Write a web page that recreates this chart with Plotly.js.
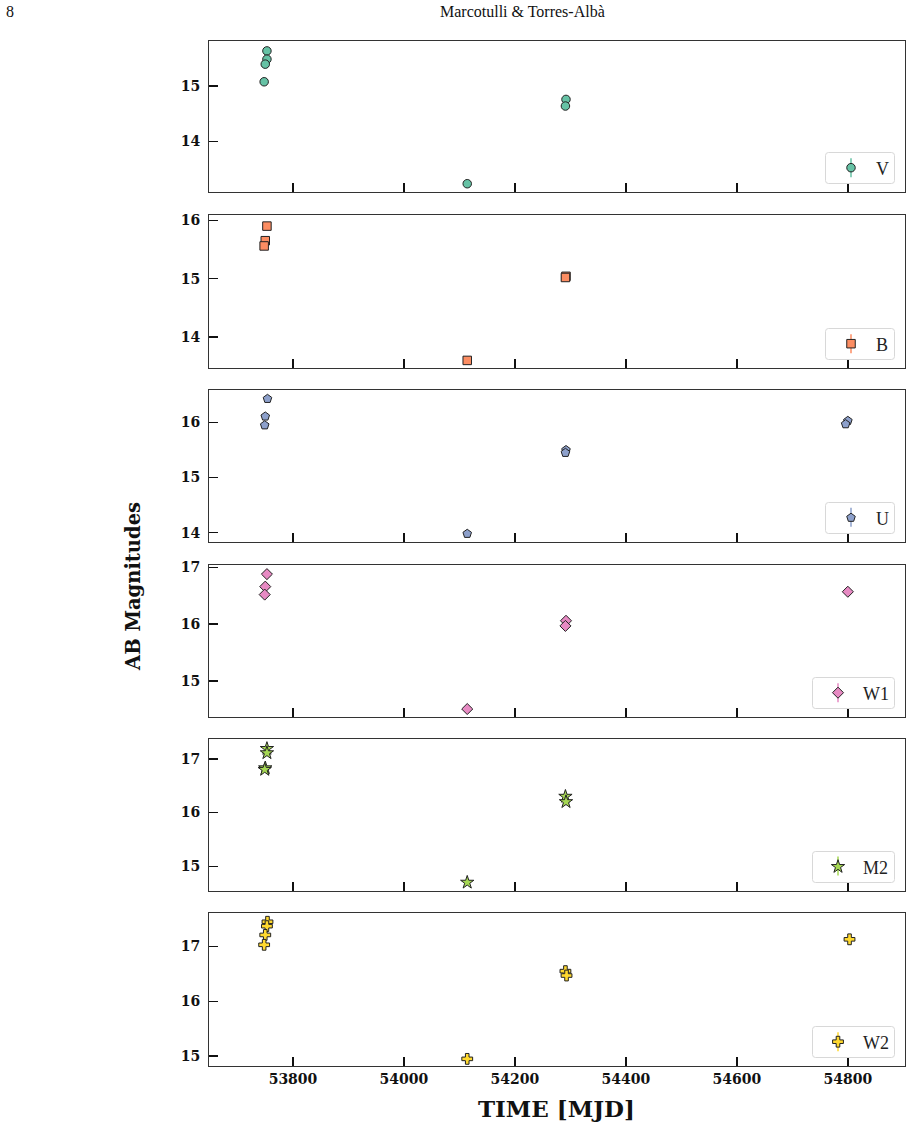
<!DOCTYPE html>
<html><head><meta charset="utf-8">
<script src="https://cdn.plot.ly/plotly-3.0.1.min.js"></script>
<style>body{margin:0;background:#fff}#chart{width:911px;height:1129px}</style>
</head><body><div id="chart"></div>
<script>
// ---- data ----
const bands = ['V', 'B', 'U', 'W1', 'M2', 'W2'];
const mjd_V  = [53753, 53753, 53750, 53748, 54114, 54292, 54291];
const mag_V  = [15.64, 15.49, 15.40, 15.08, 13.23, 14.76, 14.64];
const mjd_B  = [53753, 53750, 53748, 54114, 54292, 54291];
const mag_B  = [15.90, 15.65, 15.56, 13.60, 15.04, 15.02];
const mjd_U  = [53754, 53750, 53749, 54114, 54292, 54291, 54800, 54796];
const mag_U  = [16.43, 16.11, 15.95, 13.98, 15.50, 15.45, 16.03, 15.97];
const mjd_W1 = [53753, 53750, 53749, 54114, 54292, 54291, 54800];
const mag_W1 = [16.88, 16.66, 16.52, 14.51, 16.06, 15.97, 16.57];
const mjd_M2 = [53753, 53753, 53750, 53749, 54114, 54291, 54292];
const mag_M2 = [17.19, 17.11, 16.83, 16.80, 14.70, 16.30, 16.20];
const mjd_W2 = [53754, 53753, 53750, 53748, 54114, 54291, 54293, 54803];
const mag_W2 = [17.45, 17.37, 17.21, 17.03, 14.95, 16.55, 16.47, 17.13];
const xTicks = [53800, 54000, 54200, 54400, 54600, 54800];

const mjds = [mjd_V, mjd_B, mjd_U, mjd_W1, mjd_M2, mjd_W2];
const mags = [mag_V, mag_B, mag_U, mag_W1, mag_M2, mag_W2];

// ---- style ----
const colors  = ['#66c2a5', '#fc8d62', '#8da0cb', '#e78ac3', '#a6d854', '#ffd92f'];
const symbols = ['circle', 'square', 'pentagon', 'diamond', 'star', 'cross'];
const sizes   = [8.5, 8.5, 9, 8.5, 10, 9];
const yRanges = [[13.08, 15.82], [13.47, 16.09], [13.83, 16.59], [14.37, 17.04], [14.54, 17.37], [14.82, 17.61]];
const W = 911, H = 1129;
const tops    = [41, 215, 390, 565, 739, 913];
const bottoms = [192, 368, 542, 717, 891, 1066];
const xLeft = 209, xRight = 905;

const tickFont = {family: 'DejaVu Serif', size: 14, weight: 'bold', color: '#111'};
const traces = [];
const layout = {
  width: W, height: H,
  margin: {l: 0, r: 0, t: 0, b: 0},
  paper_bgcolor: '#fff', plot_bgcolor: '#fff',
  showlegend: true,
  annotations: [
    {text: '8', x: 4 / W, y: 1 - 12 / H, xref: 'paper', yref: 'paper', xanchor: 'left', yanchor: 'middle', showarrow: false,
     font: {family: 'Liberation Serif', size: 16, color: '#111'}},
    {text: 'Marcotulli & Torres-Albà', x: 522 / W, y: 1 - 12 / H, xref: 'paper', yref: 'paper', xanchor: 'center', yanchor: 'middle', showarrow: false,
     font: {family: 'Liberation Serif', size: 16, color: '#111'}},
    {text: 'AB Magnitudes', x: 133 / W, y: 1 - 587 / H, xref: 'paper', yref: 'paper', xanchor: 'center', yanchor: 'middle', textangle: -90, showarrow: false,
     font: {family: 'DejaVu Serif', size: 19.5, weight: 'bold', color: '#111'}},
    {text: 'TIME [MJD]', x: 556 / W, y: 1 - 1108 / H, xref: 'paper', yref: 'paper', xanchor: 'center', yanchor: 'middle', showarrow: false,
     font: {family: 'DejaVu Serif', size: 23, weight: 'bold', color: '#111'}}
  ]
};

bands.forEach((b, i) => {
  const n = i === 0 ? '' : String(i + 1);
  const lg = 'legend' + n;
  traces.push({
    type: 'scatter', mode: 'markers', name: b,
    x: mjds[i], y: mags[i],
    xaxis: 'x' + n, yaxis: 'y' + n, legend: lg,
    marker: {symbol: symbols[i], size: sizes[i], color: colors[i], line: {color: '#222', width: 1}},
    hoverinfo: 'x+y'
  });
  layout['xaxis' + n] = {
    domain: [xLeft / W, xRight / W], anchor: 'y' + n,
    range: [53648.6, 54903], tickvals: xTicks, ticktext: xTicks.map(String),
    ticks: 'inside', ticklen: 9, tickwidth: 1.5, tickcolor: '#111',
    showticklabels: i === 5, tickfont: tickFont,
    showline: true, linecolor: '#333', linewidth: 1, mirror: true,
    showgrid: false, zeroline: false
  };
  if (i > 0) layout['xaxis' + n].matches = 'x';
  layout['yaxis' + n] = {
    domain: [1 - bottoms[i] / H, 1 - tops[i] / H], anchor: 'x' + n,
    range: yRanges[i], dtick: 1, tick0: 0,
    ticks: 'inside', ticklen: 9, tickwidth: 1.5, tickcolor: '#111',
    tickfont: tickFont, ticklabelstandoff: 5,
    showline: true, linecolor: '#333', linewidth: 1, mirror: true,
    showgrid: false, zeroline: false
  };
  layout[lg] = {
    x: 895 / W, xanchor: 'right', y: 1 - (bottoms[i] - 4.5) / H, yanchor: 'bottom',
    bgcolor: 'rgba(255,255,255,0)', bordercolor: 'rgba(0,0,0,0)', borderwidth: 1,
    font: {family: 'Liberation Serif', size: 18, color: '#222'},
    itemwidth: 40
  };
});

function roundRect(x0, y0, x1, y1, r) {
  // pixel coords (top-left origin) -> paper-coordinate SVG path
  const px = v => (v / W).toFixed(5), py = v => (1 - v / H).toFixed(5);
  return 'M' + px(x0 + r) + ',' + py(y0) +
    ' L' + px(x1 - r) + ',' + py(y0) + ' Q' + px(x1) + ',' + py(y0) + ' ' + px(x1) + ',' + py(y0 + r) +
    ' L' + px(x1) + ',' + py(y1 - r) + ' Q' + px(x1) + ',' + py(y1) + ' ' + px(x1 - r) + ',' + py(y1) +
    ' L' + px(x0 + r) + ',' + py(y1) + ' Q' + px(x0) + ',' + py(y1) + ' ' + px(x0) + ',' + py(y1 - r) +
    ' L' + px(x0) + ',' + py(y0 + r) + ' Q' + px(x0) + ',' + py(y0) + ' ' + px(x0 + r) + ',' + py(y0) + ' Z';
}

Plotly.newPlot('chart', traces, layout, {displayModeBar: false, staticPlot: true}).then(gd => {
  const root = gd.getBoundingClientRect();
  const shapes = [];
  bands.forEach((b, i) => {
    const lg = 'legend' + (i === 0 ? '' : String(i + 1));
    const grp = gd.querySelector('g.' + lg + ' rect.bg');
    const pt = gd.querySelector('g.' + lg + ' .legendpoints path.scatterpts');
    if (grp) {
      const g = grp.getBoundingClientRect();
      const x0 = g.left - root.left, x1 = g.right - root.left;
      const cy = (g.top + g.bottom) / 2 - root.top;
      shapes.push({type: 'path', xref: 'paper', yref: 'paper', layer: 'above',
        path: roundRect(x0, cy - 15.5, x1, cy + 15.5, 3),
        line: {color: '#d8d8d8', width: 1}, fillcolor: 'rgba(255,255,255,0)'});
    }
    if (pt) {
      const r = pt.getBoundingClientRect();
      const cx = r.left + r.width / 2 - root.left, cy = r.top + r.height / 2 - root.top;
      shapes.push({type: 'line', xref: 'paper', yref: 'paper', layer: 'above',
        x0: cx / W, x1: cx / W, y0: 1 - (cy + 9.5) / H, y1: 1 - (cy - 9.5) / H,
        line: {color: colors[i], width: 1.5}});
    }
  });
  return Plotly.relayout(gd, {shapes: shapes});
});
</script></body></html>
